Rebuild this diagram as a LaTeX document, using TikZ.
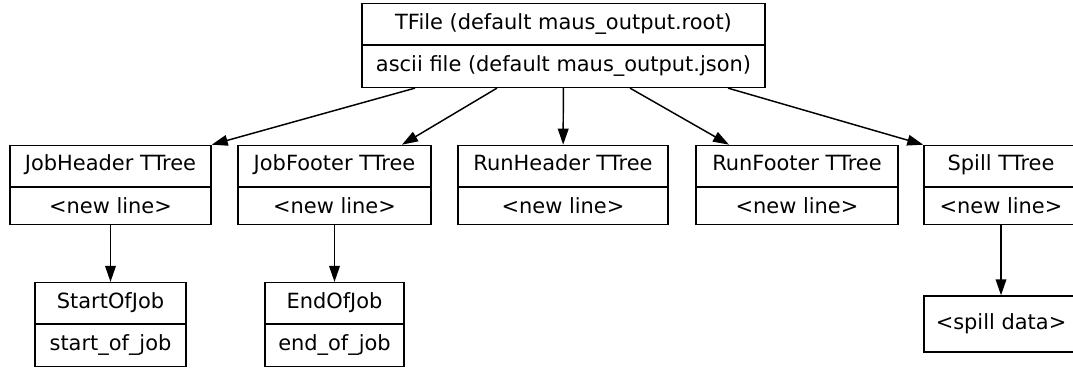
\documentclass[tikz,border=0pt]{standalone}
\usepackage{fontspec}
\setmainfont{DejaVu Sans}
\usetikzlibrary{shapes.multipart,arrows.meta}
\tikzset{
  rec/.style={draw, line width=1.1pt, rectangle split, rectangle split parts=2,
    inner xsep=0pt, inner ysep=7.5pt, text height=11pt, text depth=4pt,
    minimum width=#1},
  box/.style={draw, line width=1.1pt, inner sep=0pt, minimum width=#1,
    minimum height=42pt},
  arr/.style={line width=1.1pt, -{Triangle[length=12pt,width=8pt]}}
}
\begin{document}
\begin{tikzpicture}[x=0.75pt,y=-0.75pt,font=\fontsize{15.7}{18}\selectfont]
  \useasboundingbox (0,0) rectangle (1073,368);
  \clip (0,0) rectangle (1073,368);
  % file
  \node[rec=302.25pt] (tfile) at (563.5,45.5)
    {TFile (default maus\_output.root)\nodepart{two}ascii file (default maus\_output.json)};
  % trees
  \node[rec=150.75pt] (jobheader) at (110.5,185) {JobHeader TTree\nodepart{two}<new line>};
  \node[rec=144.75pt] (jobfooter) at (334.5,185) {JobFooter TTree\nodepart{two}<new line>};
  \node[rec=157.5pt] (runheader) at (563,185) {RunHeader TTree\nodepart{two}<new line>};
  \node[rec=151.5pt] (runfooter) at (797,185) {RunFooter TTree\nodepart{two}<new line>};
  \node[rec=115.5pt] (spill) at (1001,185) {Spill TTree\nodepart{two}<new line>};
  % branches
  \node[rec=113.25pt] (startofjob) at (110.5,324.5) {StartOfJob\nodepart{two}start\_of\_job};
  \node[rec=104.25pt] (endofjob) at (334.5,324.5) {EndOfJob\nodepart{two}end\_of\_job};
  \node[box=115.5pt] (spilldata) at (1001,324) {<spill data>};
  % edges
  \draw[arr] ([xshift=-111.4pt]tfile.south) -- (jobheader.north east);
  \draw[arr] ([xshift=-49.9pt]tfile.south) -- ([xshift=50.6pt]jobfooter.north);
  \draw[arr] (tfile) -- (runheader);
  \draw[arr] ([xshift=49.9pt]tfile.south) -- ([xshift=-51pt]runfooter.north);
  \draw[arr] ([xshift=123.4pt]tfile.south) -- (spill.north west);
  \draw[arr] (jobheader) -- (startofjob);
  \draw[arr] (jobfooter) -- (endofjob);
  \draw[arr] (spill) -- (spilldata);
\end{tikzpicture}
\end{document}
